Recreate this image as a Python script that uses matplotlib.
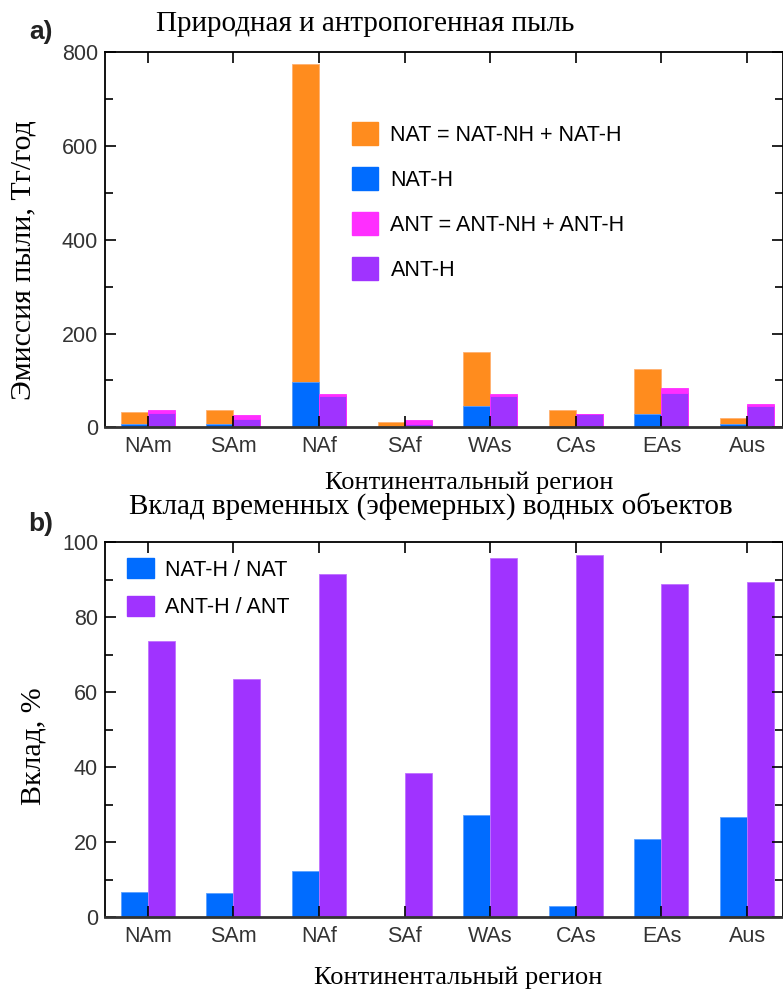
import numpy as np
import matplotlib.pyplot as plt
from matplotlib.patches import Patch
from matplotlib.ticker import MultipleLocator

# Regions and values
regions = ['NAm', 'SAm', 'NAf', 'SAf', 'WAs', 'CAs', 'EAs', 'Aus']
nat = [32, 36, 775, 12, 161, 36, 124, 19]      # NAT = NAT-NH + NAT-H, Tg/yr
nat_h = [6, 6, 97, 1, 45, 1, 29, 6]           # NAT-H
ant = [36, 27, 70, 16, 70, 29, 84, 49]        # ANT = ANT-NH + ANT-H
ant_h = [30, 17, 66, 8, 67, 28, 74, 45]       # ANT-H
share_nat = [6.8, 6.4, 12.4, 0.2, 27.2, 3.1, 20.9, 26.8]     # NAT-H / NAT, %
share_ant = [73.8, 63.6, 91.6, 38.6, 95.7, 96.6, 89.0, 89.4]  # ANT-H / ANT, %

c_nat = '#ff8c1e'
c_nat_h = '#006cff'
c_ant = '#ff2eff'
c_ant_h = '#a033ff'

W, H = 783, 992
fig = plt.figure(figsize=(W / 100, H / 100), dpi=100)
serif = ['Liberation Serif', 'DejaVu Serif']
sans = ['Liberation Sans', 'DejaVu Sans']

x = np.arange(len(regions))
w = 0.315


def style_axis(ax, ymax, major, minor):
    ax.set_xlim(-0.5, 7.42)
    ax.set_ylim(0, ymax)
    ax.set_xticks(x)
    ax.set_xticklabels(regions, fontfamily=sans, fontsize=15.5, color='#333333')
    ax.yaxis.set_major_locator(MultipleLocator(major))
    ax.yaxis.set_minor_locator(MultipleLocator(minor))
    for lab in ax.get_yticklabels():
        lab.set_fontfamily(sans)
        lab.set_fontsize(15.5)
        lab.set_color('#333333')
    ax.tick_params(axis='both', which='major', direction='in', length=8, width=1.2,
                   top=True, right=True)
    ax.tick_params(axis='y', which='minor', direction='in', length=6, width=1.2,
                   right=True)
    ax.tick_params(axis='x', pad=6)
    ax.tick_params(axis='y', pad=5)
    for s in ax.spines.values():
        s.set_linewidth(1.3)
    ax.spines['bottom'].set_linewidth(2)
    ax.spines['bottom'].set_color('#333333')


# ---- panel a
ax1 = fig.add_axes([105 / W, 1 - 427.3 / H, 1 - 105 / W, 375 / H])
ax1.bar(x - w / 2, nat, w, color=c_nat, edgecolor='#ffb070', linewidth=0.6)
ax1.bar(x - w / 2, nat_h, w, color=c_nat_h, edgecolor='#5aa0ff', linewidth=0.6)
ax1.bar(x + w / 2, ant, w, color=c_ant, edgecolor=c_ant, linewidth=0.6)
ax1.bar(x + w / 2, ant_h, w, color=c_ant_h, edgecolor=c_ant, linewidth=0.6)
style_axis(ax1, 800, 200, 100)

handles = [Patch(color=c_nat), Patch(color=c_nat_h), Patch(color=c_ant), Patch(color=c_ant_h)]
labels = ['NAT = NAT-NH + NAT-H', 'NAT-H', 'ANT = ANT-NH + ANT-H', 'ANT-H']
ax1.legend(handles, labels, loc='upper left', bbox_to_anchor=(0.348, 0.843),
           frameon=False, borderpad=0, handlelength=1.2, handleheight=1.25,
           handletextpad=0.6, labelspacing=1.0,
           prop={'family': sans, 'size': 15.5})

fig.text(365 / W, 1 - 24 / H, 'Природная и антропогенная пыль', family=serif,
         fontsize=21, ha='center', va='center')
fig.text(41 / W, 1 - 32 / H, 'a)', family=sans, fontweight='bold', fontsize=19,
         ha='center', va='center', color='#222222')
fig.text(24 / W, 1 - 260 / H, 'Эмиссия пыли, Тг/год', family=serif, fontsize=21.5,
         rotation=90, ha='center', va='center')
fig.text(469 / W, 1 - 483 / H, 'Континентальный регион', family=serif, fontsize=19,
         ha='center', va='center')

# ---- panel b
ax2 = fig.add_axes([105 / W, 1 - 917.3 / H, 1 - 105 / W, 375 / H])
ax2.bar(x - w / 2, share_nat, w, color=c_nat_h, edgecolor='#5aa0ff', linewidth=0.6)
ax2.bar(x + w / 2, share_ant, w, color=c_ant_h, edgecolor='#c070ff', linewidth=0.6)
style_axis(ax2, 100, 20, 10)

handles2 = [Patch(color=c_nat_h), Patch(color=c_ant_h)]
ax2.legend(handles2, ['NAT-H / NAT', 'ANT-H / ANT'], loc='upper left',
           bbox_to_anchor=(0.017, 0.986), frameon=False, borderpad=0,
           handlelength=1.25, handleheight=1.05, handletextpad=0.5,
           labelspacing=0.7, prop={'family': sans, 'size': 15.5})

fig.text(431 / W, 1 - 506 / H, 'Вклад временных (эфемерных) водных объектов',
         family=serif, fontsize=21, ha='center', va='center')
fig.text(41 / W, 1 - 524 / H, 'b)', family=sans, fontweight='bold', fontsize=19,
         ha='center', va='center', color='#222222')
fig.text(34 / W, 1 - 746 / H, 'Вклад, %', family=serif, fontsize=21.5,
         rotation=90, ha='center', va='center')
fig.text(458 / W, 1 - 978 / H, 'Континентальный регион', family=serif, fontsize=19,
         ha='center', va='center')

fig.savefig('out.png', dpi=100)
